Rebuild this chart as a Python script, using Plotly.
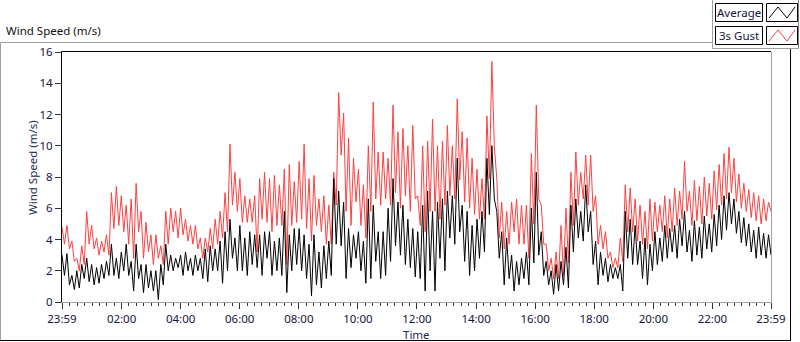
import plotly.graph_objects as go
import pandas as pd

# Values read per 10-minute interval (local high / local low), 23:59 -> 23:59
gust_hi = [4.8, 4.9, 3.9, 2.8, 3.6, 5.8,
           4.9, 4.1, 3.9, 4.3, 7.0, 7.4,
           6.8, 6.2, 6.6, 7.6, 5.8, 5.1,
           4.3, 4.3, 3.6, 5.8, 6.0, 5.8,
           6.0, 5.3, 4.9, 4.9, 4.1, 4.1,
           4.7, 5.3, 5.8, 7.0, 10.1, 8.3,
           7.9, 6.8, 6.6, 6.8, 7.9, 8.3,
           7.9, 8.1, 7.5, 8.5, 8.8, 7.7,
           9.0, 10.1, 7.9, 8.1, 6.6, 6.8,
           6.2, 8.3, 13.4, 12.1, 10.5, 9.2,
           8.5, 7.5, 10.0, 12.8, 9.6, 9.6,
           9.2, 12.6, 10.9, 11.1, 10.0, 11.3,
           6.8, 10.0, 10.3, 11.7, 10.0, 10.3,
           11.3, 10.0, 13.0, 10.9, 10.5, 9.2,
           8.5, 7.9, 11.9, 15.4, 7.9, 6.4,
           5.8, 6.4, 6.6, 6.2, 6.2, 9.5,
           12.6, 6.2, 3.7, 2.8, 3.2, 4.9,
           6.0, 8.3, 9.6, 8.3, 9.4, 9.4,
           6.8, 4.9, 4.5, 3.2, 2.8, 4.1,
           7.5, 7.3, 6.6, 6.2, 5.8, 6.6,
           6.4, 6.2, 6.8, 6.6, 7.3, 7.1,
           9.0, 7.1, 7.8, 7.4, 8.0, 7.6,
           8.4, 8.8, 9.5, 9.9, 9.2, 8.2,
           7.6, 7.2, 7.0, 6.8, 6.6, 6.4]
gust_lo = [3.7, 3.4, 2.6, 2.0, 2.4, 3.7,
           3.4, 3.0, 3.2, 3.0, 4.7, 4.9,
           4.5, 3.7, 2.8, 4.5, 2.8, 3.2,
           2.4, 2.8, 2.4, 3.7, 4.5, 4.1,
           4.3, 3.9, 3.7, 3.4, 2.8, 3.2,
           3.4, 3.7, 4.1, 4.5, 6.2, 5.8,
           5.1, 5.1, 5.1, 3.2, 5.3, 5.1,
           4.5, 4.9, 4.9, 2.4, 4.9, 5.1,
           5.3, 4.7, 3.9, 4.9, 4.5, 3.7,
           3.7, 6.2, 9.4, 5.8, 4.9, 6.4,
           4.9, 4.1, 5.8, 6.6, 6.2, 6.6,
           6.2, 7.0, 6.0, 6.8, 5.8, 6.6,
           4.9, 4.5, 5.8, 5.8, 5.3, 6.2,
           6.8, 6.6, 7.8, 6.4, 6.0, 5.6,
           5.3, 5.3, 7.9, 10.0, 4.1, 3.4,
           3.7, 4.5, 3.7, 3.7, 2.8, 5.0,
           6.6, 3.7, 2.0, 1.5, 1.5, 1.7,
           2.5, 4.9, 6.2, 6.6, 6.2, 5.8,
           3.7, 3.4, 2.8, 2.2, 2.2, 2.6,
           4.5, 4.5, 3.9, 3.7, 3.4, 3.9,
           4.5, 4.5, 4.1, 4.5, 4.9, 5.3,
           5.8, 4.9, 5.2, 5.0, 5.5, 5.3,
           5.9, 6.2, 6.6, 7.0, 6.4, 6.0,
           5.8, 5.4, 5.2, 5.0, 5.2, 5.8]
avg_hi = [3.0, 3.1, 1.7, 2.0, 2.4, 2.8,
          2.4, 2.2, 2.4, 2.6, 3.7, 2.8,
          3.2, 3.7, 2.6, 3.7, 2.4, 2.4,
          2.0, 2.0, 2.4, 3.7, 3.0, 2.8,
          3.0, 3.2, 2.8, 3.0, 2.8, 3.4,
          3.6, 3.4, 3.9, 4.5, 5.3, 4.1,
          4.9, 4.1, 4.5, 4.3, 4.3, 4.5,
          4.5, 3.9, 4.1, 5.8, 4.3, 4.7,
          4.7, 4.3, 3.7, 4.3, 3.2, 3.6,
          3.9, 7.9, 7.1, 6.4, 4.7, 4.3,
          4.5, 3.9, 6.6, 6.2, 4.5, 4.5,
          6.0, 7.9, 6.4, 6.2, 5.3, 4.7,
          4.5, 6.2, 7.1, 5.8, 6.4, 6.6,
          7.1, 6.8, 9.2, 6.2, 5.8, 4.9,
          5.3, 5.8, 9.2, 10.0, 5.8, 4.5,
          4.1, 3.0, 2.6, 2.8, 3.2, 6.0,
          8.3, 4.5, 2.6, 2.0, 2.4, 2.6,
          3.5, 6.2, 6.6, 5.8, 7.5, 5.8,
          3.9, 3.2, 2.8, 2.4, 2.2, 2.4,
          5.8, 5.3, 4.9, 3.9, 4.1, 3.7,
          4.5, 4.1, 4.9, 4.7, 4.9, 5.3,
          5.8, 4.6, 5.2, 4.8, 5.5, 5.0,
          5.6, 6.2, 6.8, 7.0, 6.6, 5.8,
          5.4, 5.0, 4.6, 4.8, 4.4, 4.3]
avg_lo = [1.7, 1.1, 0.8, 0.9, 1.5, 1.3,
          1.1, 1.2, 1.5, 1.7, 1.7, 1.5,
          2.0, 1.7, 0.7, 1.5, 0.6, 0.9,
          0.7, 0.15, 1.1, 2.0, 2.0, 2.2,
          1.7, 2.0, 1.7, 2.0, 1.5, 1.3,
          2.0, 2.0, 1.2, 2.0, 2.8, 2.0,
          2.0, 1.7, 2.4, 2.2, 1.7, 2.8,
          1.7, 2.0, 1.7, 0.6, 2.0, 2.4,
          2.0, 1.5, 0.4, 1.1, 0.9, 1.5,
          1.7, 3.7, 3.6, 1.5, 2.2, 2.8,
          2.0, 1.2, 1.5, 2.6, 1.5, 1.7,
          2.6, 3.6, 3.0, 2.4, 2.2, 1.6,
          1.5, 0.7, 2.0, 0.7, 2.8, 2.0,
          4.1, 3.7, 4.5, 2.6, 1.7, 2.0,
          2.8, 3.2, 5.6, 6.6, 2.8, 1.1,
          1.5, 0.7, 1.1, 1.5, 1.1, 2.5,
          3.0, 1.7, 1.1, 0.5, 0.7, 1.1,
          0.9, 3.2, 4.1, 3.9, 4.5, 2.4,
          1.1, 1.7, 1.3, 1.5, 1.5, 0.7,
          2.8, 2.4, 2.4, 1.5, 1.1, 2.0,
          2.4, 2.6, 2.8, 3.2, 2.8, 3.6,
          3.2, 2.6, 3.0, 2.8, 3.4, 3.2,
          3.6, 4.0, 4.6, 5.0, 4.4, 3.8,
          3.6, 3.2, 2.8, 3.0, 2.8, 3.0]

start_time = "2024-01-01 23:59"
end_time = "2024-01-02 23:59"
tick_times = ["2024-01-01 23:59", "2024-01-02 02:00", "2024-01-02 04:00",
              "2024-01-02 06:00", "2024-01-02 08:00", "2024-01-02 10:00",
              "2024-01-02 12:00", "2024-01-02 14:00", "2024-01-02 16:00",
              "2024-01-02 18:00", "2024-01-02 20:00", "2024-01-02 22:00",
              "2024-01-02 23:59"]
tick_labels = ["23:59", "02:00", "04:00", "06:00", "08:00", "10:00", "12:00",
               "14:00", "16:00", "18:00", "20:00", "22:00", "23:59"]
y_ticks = [0, 2, 4, 6, 8, 10, 12, 14, 16]


def interleave(hi, lo):
    out = []
    for h, l in zip(hi, lo):
        out += [h, l]
    return out


gust = interleave(gust_hi, gust_lo)
avg = interleave(avg_hi, avg_lo)
times = pd.date_range(start_time, end_time, periods=len(gust))

fig = go.Figure()
fig.add_trace(go.Scatter(x=times, y=gust, mode="lines", name="3s Gust",
                         line=dict(color="#ff3f3f", width=1)))
fig.add_trace(go.Scatter(x=times, y=avg, mode="lines", name="Average",
                         line=dict(color="#000000", width=1)))

# pixel geometry
L, R, T, B = 62, 771, 52, 302
W, H = R - L, B - T


def px(x):
    return (x - L) / W


def py(y):
    return (B - y) / H


shapes = []


def line(x0, y0, x1, y1, color, width=1):
    shapes.append(dict(type="line", xref="paper", yref="paper",
                       x0=px(x0), y0=py(y0), x1=px(x1), y1=py(y1),
                       line=dict(color=color, width=width), layer="above"))


def rect(x0, y0, x1, y1, color, fill="white"):
    shapes.append(dict(type="rect", xref="paper", yref="paper",
                       x0=px(x0), y0=py(y0), x1=px(x1), y1=py(y1),
                       line=dict(color=color, width=1), fillcolor=fill, layer="above"))


# outer frame
line(0.5, 42.5, 712, 42.5, "#a0a0a0")
line(0.5, 42.5, 0.5, 341, "#a0a0a0")
line(0, 340.5, 791, 340.5, "#000000")
line(790.5, 48, 790.5, 341, "#000000")
# legend frame
line(712.5, 0, 712.5, 48.5, "#a0a0a0")
line(712.5, 48.5, 798.5, 48.5, "#a0a0a0")
line(798.5, 0, 798.5, 48.5, "#808080")
# plot frame
line(L - 0.5, T - 0.5, R, T - 0.5, "#000000")
line(L - 0.5, T - 0.5, L - 0.5, B + 0.5, "#000000")
line(L, B + 0.5, R + 0.5, B + 0.5, "#a0a0a0")
line(R + 0.5, T, R + 0.5, B + 0.5, "#a0a0a0")

# legend boxes
rect(715.5, 3.5, 762.5, 21.5, "#000000")
rect(766.5, 3.5, 797.5, 21.5, "#000000")
rect(715.5, 26.5, 762.5, 44.5, "#000000")
rect(766.5, 26.5, 797.5, 44.5, "#000000")


def zig(y_bot, y_top, color):
    pts = [(769, y_bot), (778, y_top), (787, y_bot), (795, y_top)]
    path = "M " + " L ".join(f"{px(x)},{py(y)}" for x, y in pts)
    shapes.append(dict(type="path", xref="paper", yref="paper", path=path,
                       line=dict(color=color, width=1), layer="above"))


zig(18, 7, "#000000")
zig(41, 30, "#ff3f3f")

FS = 11.5
annotations = [
    dict(text="Wind Speed (m/s)", x=px(4), y=py(31), xref="paper", yref="paper",
         xanchor="left", yanchor="middle", showarrow=False,
         font=dict(size=FS, color="#101010")),
    dict(text="Wind Speed (m/s)", x=px(32), y=py(168), xref="paper", yref="paper",
         xanchor="center", yanchor="middle", showarrow=False, textangle=-90,
         font=dict(size=FS, color="#1c2c5a")),
    dict(text="Time", x=px(416.5), y=py(334), xref="paper", yref="paper",
         xanchor="center", yanchor="middle", showarrow=False,
         font=dict(size=FS, color="#1c2c5a")),
    dict(text="Average", x=px(739), y=py(12.5), xref="paper", yref="paper",
         xanchor="center", yanchor="middle", showarrow=False,
         font=dict(size=FS, color="#14143c")),
    dict(text="3s Gust", x=px(739), y=py(35.5), xref="paper", yref="paper",
         xanchor="center", yanchor="middle", showarrow=False,
         font=dict(size=FS, color="#14143c")),
]

fig.update_layout(
    width=800, height=342,
    margin=dict(l=L, r=800 - R, t=T, b=342 - B),
    paper_bgcolor="white", plot_bgcolor="white",
    showlegend=False,
    font=dict(family="Noto Sans", size=FS, color="#14143c"),
    shapes=shapes, annotations=annotations,
)
fig.update_xaxes(
    range=[start_time, end_time], tickmode="array", tickvals=tick_times,
    ticktext=tick_labels, ticks="outside", ticklen=6, tickcolor="#333333",
    showgrid=False, zeroline=False, showline=False,
    tickfont=dict(size=FS, color="#14143c"),
    minor=dict(ticks="outside", ticklen=3, tickcolor="#333333", tickmode="linear",
               tick0="2024-01-02 00:00", dtick=900000, showgrid=False),
)
fig.update_yaxes(
    range=[0, 16], tickmode="array", tickvals=y_ticks, ticks="outside",
    ticklen=6, tickcolor="#333333", showgrid=False, zeroline=False,
    showline=False, tickfont=dict(size=FS, color="#14143c"),
)

fig.write_html("out.html", config={"displayModeBar": False},
               post_script="document.body.style.margin='0';document.body.style.padding='0';document.body.style.overflow='hidden';")
